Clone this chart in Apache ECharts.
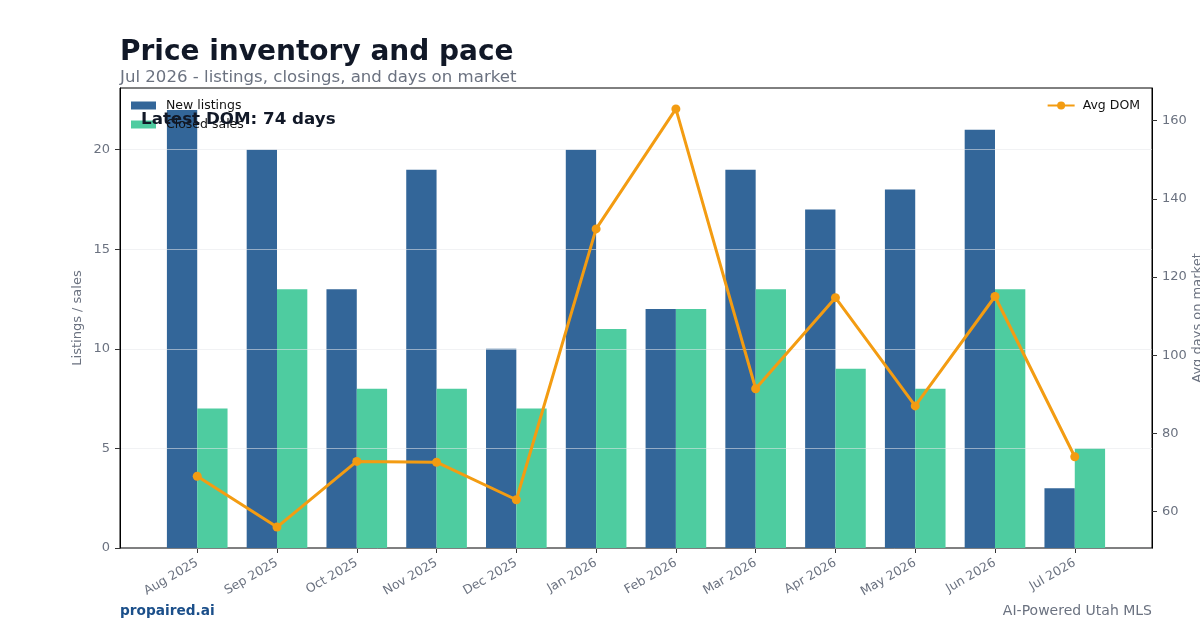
<!DOCTYPE html>
<html>
<head>
<meta charset="utf-8">
<script src="https://cdn.jsdelivr.net/npm/echarts@6/dist/echarts.min.js"></script>
<style>
html,body{margin:0;padding:0;background:#fff;}
#chart{width:1200px;height:630px;}
</style>
</head>
<body>
<div id="chart"></div>
<script>
const months = ['Aug 2025','Sep 2025','Oct 2025','Nov 2025','Dec 2025','Jan 2026','Feb 2026','Mar 2026','Apr 2026','May 2026','Jun 2026','Jul 2026'];
const newListings = [22,20,13,19,10,20,12,19,17,18,21,3];
const closedSales = [7,13,8,8,7,11,12,13,9,8,13,5];
const avgDom = [69,56,72.8,72.6,63,132.3,163,91.4,114.7,87,115,74];
const leftTicks = [0,5,10,15,20];
const rightTicks = [60,80,100,120,140,160];

const FONT = 'DejaVu Sans';
const GRAY = '#6b7280';
const BLUE = '#336699';
const GREEN = '#4ecca0';
const ORANGE = '#f39c12';

const idx = months.map((m,i)=>i);
const barHalf = 0.38;
const xMargin = (months.length - 1 + 2*barHalf) * 0.05;
const domMin = Math.min(...avgDom), domMax = Math.max(...avgDom);
const domPad = (domMax - domMin) * 0.05;
const leftMax = Math.max(...newListings, ...closedSales) * 1.05;

const chart = echarts.init(document.getElementById('chart'));
chart.setOption({
  animation: false,
  textStyle: {fontFamily: FONT},
  title: [
    {text: 'Price inventory and pace', left: 115, top: 34,
     textStyle: {fontSize: 28, fontWeight: 'bold', color: '#111827', fontFamily: FONT}},
    {text: 'Jul 2026 - listings, closings, and days on market', left: 115, top: 64,
     textStyle: {fontSize: 16.6, fontWeight: 'normal', color: GRAY, fontFamily: FONT}},
    {text: 'propaired.ai', left: 115, top: 599,
     textStyle: {fontSize: 13.7, fontWeight: 'bold', color: '#1b4f8a', fontFamily: FONT}},
    {text: 'AI-Powered Utah MLS', right: 43, top: 599,
     textStyle: {fontSize: 14, fontWeight: 'normal', color: GRAY, fontFamily: FONT}}
  ],
  legend: [
    {data: ['New listings','Closed sales'], orient: 'vertical', left: 131, top: 99, padding: 0,
     itemWidth: 25, itemHeight: 8, itemGap: 6, icon: 'rect',
     textStyle: {fontSize: 12.5, color: '#111', fontFamily: FONT, padding: [0,0,0,5]}},
    {data: ['Avg DOM'], right: 60, top: 99, padding: 0, itemWidth: 27, itemHeight: 10,
     textStyle: {fontSize: 12.5, color: '#111', fontFamily: FONT, padding: [0,0,0,3]}}
  ],
  graphic: [
    {type: 'text', left: 141, top: 111, z: 100,
     style: {text: 'Latest DOM: 74 days', font: 'bold 16.7px "DejaVu Sans"', fill: '#111827'}}
  ],
  grid: {left: 120, right: 48, top: 88, bottom: 82, outerBoundsMode: 'none', containLabel: false,
         show: true, borderColor: '#000', borderWidth: 1, backgroundColor: 'transparent'},
  xAxis: {
    type: 'value', min: -barHalf - xMargin, max: months.length - 1 + barHalf + xMargin,
    splitLine: {show: false},
    axisLine: {onZero: false, lineStyle: {color: '#000', width: 1}},
    axisTick: {customValues: idx, length: 5, lineStyle: {color: '#333'}},
    axisLabel: {customValues: idx, rotate: 30, fontSize: 12.5, color: GRAY, margin: 14,
      formatter: v => months[Math.round(v)]}
  },
  yAxis: [
    {type: 'value', min: 0, max: leftMax, interval: 5, z: 5,
     name: 'Listings / sales', nameLocation: 'middle', nameGap: 36, nameMoveOverlap: false,
     nameTextStyle: {fontSize: 13, color: GRAY, fontFamily: FONT},
     axisLine: {show: true, onZero: false, lineStyle: {color: '#000', width: 1}},
     axisTick: {show: true, customValues: leftTicks, length: 5, lineStyle: {color: '#333'}},
     axisLabel: {customValues: leftTicks, fontSize: 13, color: GRAY, margin: 10},
     splitLine: {show: true, lineStyle: {color: 'rgba(229,231,235,0.55)', width: 1}}},
    {type: 'value', position: 'right', min: domMin - domPad, max: domMax + domPad,
     name: 'Avg days on market', nameLocation: 'middle', nameGap: 39, nameRotate: 90, nameMoveOverlap: false,
     nameTextStyle: {fontSize: 13, color: GRAY, fontFamily: FONT},
     axisLine: {show: true, onZero: false, lineStyle: {color: '#000', width: 1}},
     axisTick: {show: true, customValues: rightTicks, length: 5, lineStyle: {color: '#333'}},
     axisLabel: {customValues: rightTicks, fontSize: 13, color: GRAY, margin: 10},
     splitLine: {show: false}}
  ],
  series: [
    {name: 'New listings', type: 'bar', xAxisIndex: 0, yAxisIndex: 0,
     data: newListings.map((v,i)=>[i,v]), barWidth: (barHalf*100)+'%', barGap: '0%',
     itemStyle: {color: BLUE}, z: 2},
    {name: 'Closed sales', type: 'bar', xAxisIndex: 0, yAxisIndex: 0,
     data: closedSales.map((v,i)=>[i,v]), barWidth: (barHalf*100)+'%', barGap: '0%',
     itemStyle: {color: GREEN}, z: 2},
    {name: 'Avg DOM', type: 'line', xAxisIndex: 0, yAxisIndex: 1,
     data: avgDom.map((v,i)=>[i,v]), symbol: 'circle', symbolSize: 9,
     lineStyle: {color: ORANGE, width: 3}, itemStyle: {color: ORANGE}, z: 20}
  ]
});
</script>
</body>
</html>
